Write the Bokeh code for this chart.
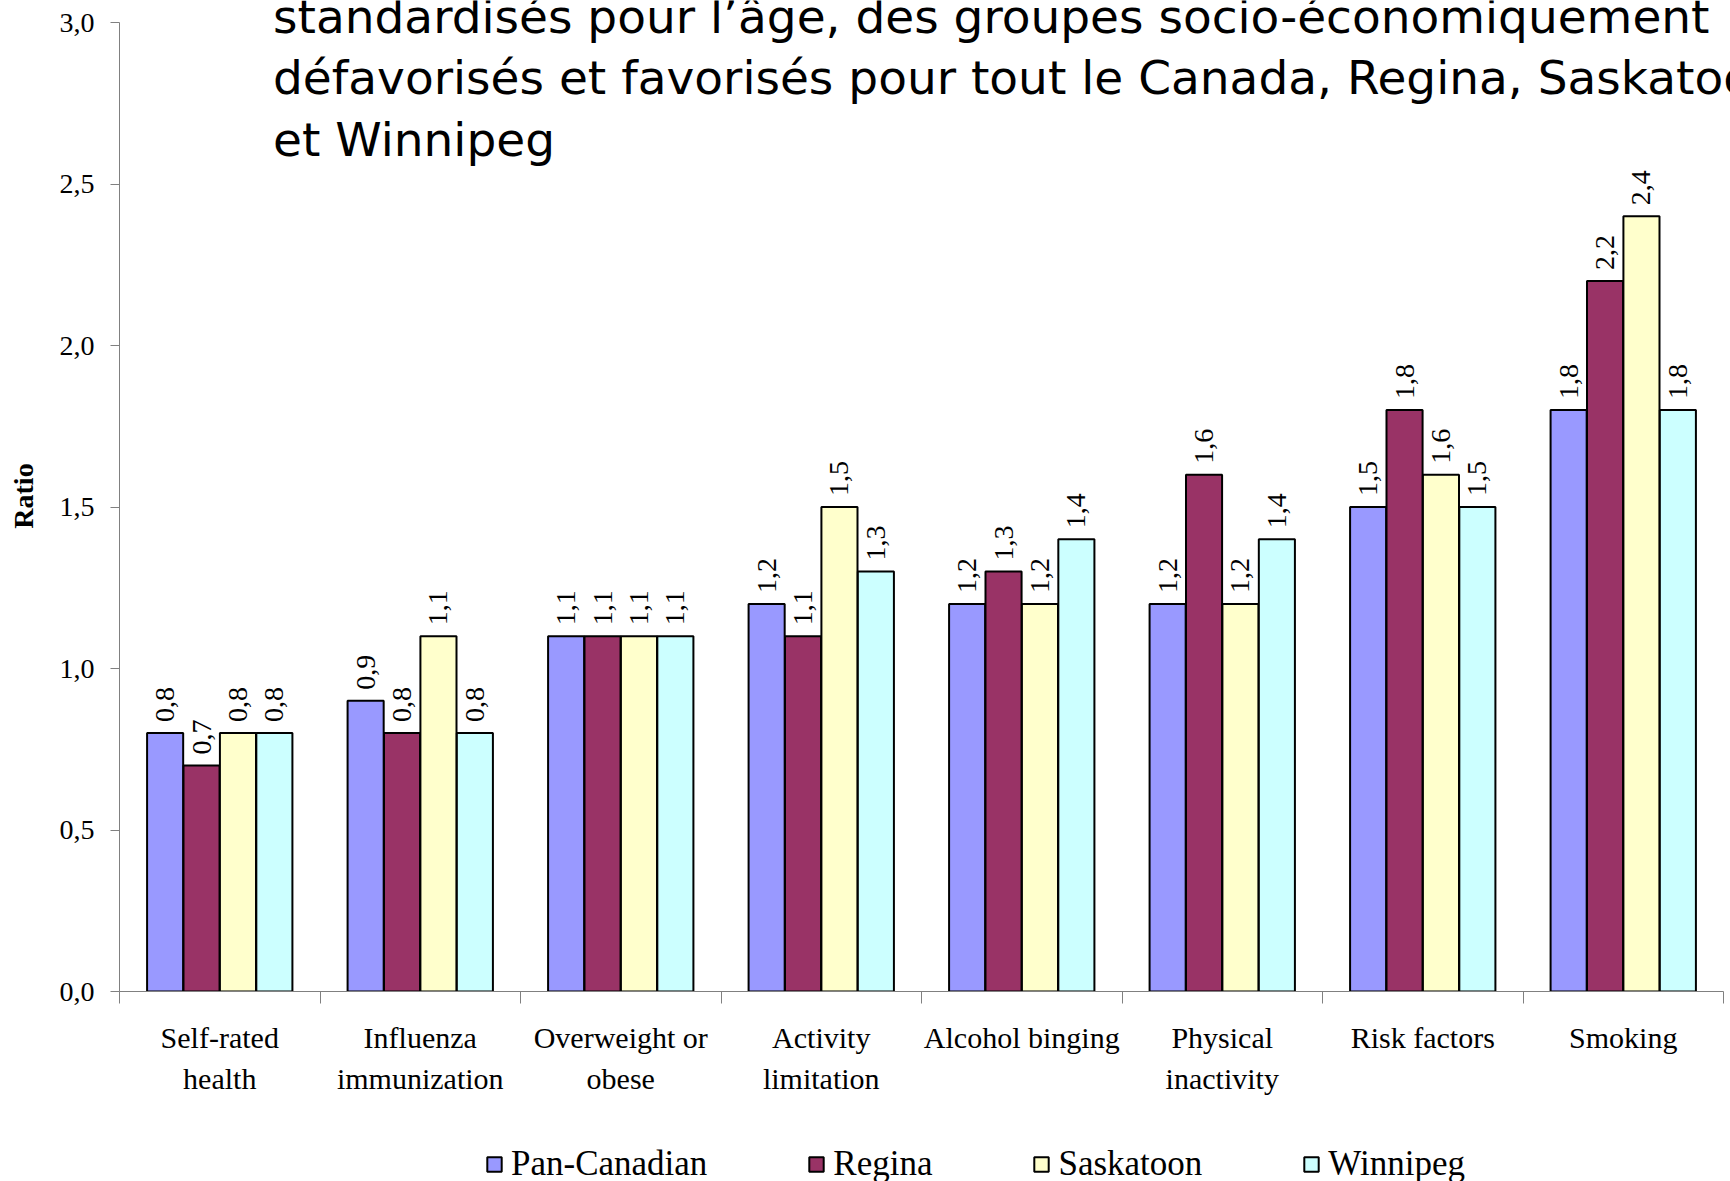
import math
from bokeh.plotting import figure
from bokeh.layouts import column
from bokeh.models import FixedTicker, Label, Legend, LegendItem, ColumnDataSource, Range1d
from bokeh.core.properties import value
from bokeh.embed import file_html
from bokeh.resources import INLINE

# ---------------- data ----------------
category_labels = [
    "Self-rated\nhealth",
    "Influenza\nimmunization",
    "Overweight or\nobese",
    "Activity\nlimitation",
    "Alcohol binging",
    "Physical\ninactivity",
    "Risk factors",
    "Smoking",
]
series_names = ["Pan-Canadian", "Regina", "Saskatoon", "Winnipeg"]
pan_canadian = [0.8, 0.9, 1.1, 1.2, 1.2, 1.2, 1.5, 1.8]
regina = [0.7, 0.8, 1.1, 1.1, 1.3, 1.6, 1.8, 2.2]
saskatoon = [0.8, 1.1, 1.1, 1.5, 1.2, 1.2, 1.6, 2.4]
winnipeg = [0.8, 0.8, 1.1, 1.3, 1.4, 1.4, 1.5, 1.8]
y_ticks = [0.0, 0.5, 1.0, 1.5, 2.0, 2.5, 3.0]
y_tick_labels = ["0,0", "0,5", "1,0", "1,5", "2,0", "2,5", "3,0"]
y_axis_title = "Ratio"
title_lines = [
    "standardisés pour l’âge, des groupes socio-économiquement",
    "défavorisés et favorisés pour tout le Canada, Regina, Saskatoon",
    "et Winnipeg",
]

# ---------------- layout constants ----------------
W = 1730
HM, HL = 1130, 51                      # main figure / legend strip heights
FL, FR, FT, FB = 119, 1723, 22, 991    # axis extents in canvas px
NCAT, YMAX = len(category_labels), 3.0
PX_X = (FR - FL) / NCAT
PX_Y = (FB - FT) / YMAX


def xd(cx):
    return (cx - FL) / PX_X


def yd(cy):
    return (FB - cy) / PX_Y


colors = ["#9999FF", "#993366", "#FFFFCC", "#CCFFFF"]
offsets = [-0.2724, -0.0908, 0.0908, 0.2724]
SERIF = "Liberation Serif"

# frame reaches the top and right canvas edges so the title is not clipped early;
# axis bounds keep the axis lines on the data extent
p = figure(width=W, height=HM,
           x_range=Range1d(0, NCAT + (W - FR) / PX_X),
           y_range=Range1d(0, YMAX + FT / PX_Y),
           output_backend="svg", toolbar_location=None,
           min_border_left=FL, min_border_right=0, min_border_top=0,
           min_border_bottom=HM - FB)
p.outline_line_color = None
p.xgrid.visible = False
p.ygrid.visible = False
p.background_fill_color = "white"
p.border_fill_color = "white"

# x axis: labels at category centres, ticks at category boundaries
xa = p.xaxis[0]
centres = [i + 0.5 for i in range(NCAT)]
xa.bounds = (0, NCAT)
xa.ticker = FixedTicker(ticks=centres, minor_ticks=list(range(NCAT + 1)))
xa.major_label_overrides = {c: l for c, l in zip(centres, category_labels)}
xa.major_label_text_font = SERIF
xa.major_label_text_font_size = "30px"
xa.major_label_text_color = "black"
xa.major_label_text_line_height = 1.26
xa.major_label_standoff = 17
xa.axis_line_color = "#808080"
xa.major_tick_line_color = None
xa.major_tick_out = 0
xa.major_tick_in = 0
xa.minor_tick_line_color = "#808080"
xa.minor_tick_out = 12
xa.minor_tick_in = 0

# y axis
ya = p.yaxis[0]
ya.bounds = (0, YMAX)
ya.ticker = FixedTicker(ticks=y_ticks)
ya.major_label_overrides = {t: l for t, l in zip(y_ticks, y_tick_labels)}
ya.major_label_text_font = SERIF
ya.major_label_text_font_size = "28px"
ya.major_label_text_color = "black"
ya.axis_line_color = "#808080"
ya.major_tick_line_color = "#808080"
ya.major_tick_out = 9
ya.major_tick_in = 0
ya.major_label_standoff = 16
ya.minor_tick_line_color = None
ya.axis_label = y_axis_title
ya.axis_label_text_font = SERIF
ya.axis_label_text_font_style = "bold"
ya.axis_label_text_font_size = "28px"
ya.axis_label_text_color = "black"
ya.axis_label_standoff = 18

all_series = [pan_canadian, regina, saskatoon, winnipeg]
for j, (name, vals) in enumerate(zip(series_names, all_series)):
    xs = [i + 0.5 + offsets[j] for i in range(len(vals))]
    src = ColumnDataSource(dict(x=xs, top=vals,
                                lab=[("%.1f" % v).replace(".", ",") for v in vals]))
    p.vbar(x="x", top="top", width=0.18, source=src, fill_color=colors[j],
           line_color="black", line_width=2)
    p.text(x="x", y="top", text="lab", source=src, angle=math.pi / 2,
           text_align="left", text_baseline="middle", y_offset=-11,
           text_font=value(SERIF), text_font_size="28px", text_color="black")

# title (cut off at the top and right like the source)
for k, t in enumerate(title_lines):
    p.add_layout(Label(x=xd(272.5), y=yd(15.6 + 61.7 * k), text=t, text_align="left",
                       text_baseline="alphabetic", text_font="DejaVu Sans",
                       text_font_size="47px", text_color="black"))

# ---------------- legend strip ----------------
pl = figure(width=W, height=HL, x_range=Range1d(0, 10), y_range=Range1d(0, 10),
            output_backend="svg", toolbar_location=None, x_axis_type=None,
            y_axis_type=None, min_border=0)
pl.outline_line_color = None
pl.xgrid.visible = False
pl.ygrid.visible = False
items = []
for j, name in enumerate(series_names):
    # swatch-only renderers: hidden in the strip, drawn by the legend
    r = pl.vbar(x=[5], bottom=[1000], top=[1001], width=1, fill_color=colors[j],
                line_color="black", line_width=2)
    r.visible = False
    items.append(LegendItem(label=name, renderers=[r]))
legend = Legend(items=items, location=(366, -3), orientation="horizontal",
                glyph_width=18, glyph_height=18, label_standoff=8, spacing=100,
                padding=0, margin=0, border_line_color=None, background_fill_alpha=0,
                label_text_font=SERIF, label_text_font_size="35px",
                label_text_color="black")
pl.add_layout(legend)

layout = column(p, pl, spacing=0)
open("out.html", "w").write(file_html(layout, INLINE))
